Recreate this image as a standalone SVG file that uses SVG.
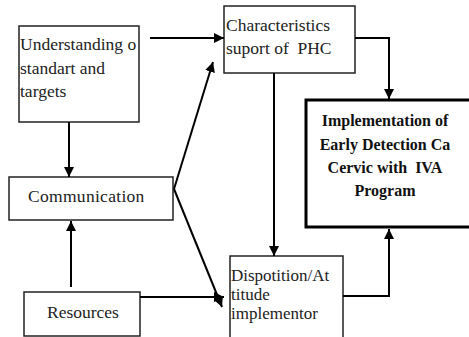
<svg xmlns="http://www.w3.org/2000/svg" width="469" height="337" viewBox="0 0 469 337">
<defs>
<marker id="ah" viewBox="0 0 10 10" refX="10" refY="5" markerWidth="10" markerHeight="10" markerUnits="userSpaceOnUse" orient="auto">
<path d="M0,0 L10,5 L0,10 Z" fill="#000"/>
</marker>
</defs>
<rect width="469" height="337" fill="#fff"/>
<g id="understanding">
<rect x="19" y="26" width="120" height="96" fill="#fff" stroke="#222" stroke-width="1.5"/>
<text x="20" y="50" font-family="Liberation Serif" font-size="17.5" fill="#222">Understanding o</text>
<text x="20" y="74" font-family="Liberation Serif" font-size="17.5" fill="#222">standart and</text>
<text x="20" y="97" font-family="Liberation Serif" font-size="17.5" fill="#222">targets</text>
</g>
<g id="characteristics">
<rect x="224" y="6" width="131" height="67" fill="#fff" stroke="#222" stroke-width="1.5"/>
<text x="226" y="31" font-family="Liberation Serif" font-size="17.5" fill="#222">Characteristics</text>
<text x="226" y="54" font-family="Liberation Serif" font-size="17.5" fill="#222" xml:space="preserve">suport of  PHC</text>
</g>
<g id="implementation">
<rect x="306" y="100" width="170" height="127" fill="#fff" stroke="#000" stroke-width="3"/>
<text x="385" y="126" font-family="Liberation Serif" font-size="16" font-weight="bold" text-anchor="middle" fill="#111">Implementation of</text>
<text x="385" y="150" font-family="Liberation Serif" font-size="16" font-weight="bold" text-anchor="middle" fill="#111">Early Detection Ca</text>
<text x="385" y="173" font-family="Liberation Serif" font-size="16" font-weight="bold" text-anchor="middle" fill="#111" xml:space="preserve">Cervic with  IVA</text>
<text x="385" y="196" font-family="Liberation Serif" font-size="16" font-weight="bold" text-anchor="middle" fill="#111">Program</text>
</g>
<g id="communication">
<rect x="9" y="177" width="164" height="43" fill="#fff" stroke="#222" stroke-width="1.5"/>
<text x="28" y="202" font-family="Liberation Serif" font-size="17.5" fill="#222" letter-spacing="0.3">Communication</text>
</g>
<g id="resources">
<rect x="24" y="292" width="116" height="44" fill="#fff" stroke="#222" stroke-width="1.5"/>
<text x="47" y="318" font-family="Liberation Serif" font-size="17.5" fill="#222">Resources</text>
</g>
<g id="disposition">
<rect x="230" y="256" width="113" height="90" fill="#fff" stroke="#222" stroke-width="1.5"/>
<text x="231" y="281" font-family="Liberation Serif" font-size="17" fill="#222">Dispotition/At</text>
<text x="231" y="300" font-family="Liberation Serif" font-size="17" fill="#222">titude</text>
<text x="231" y="319" font-family="Liberation Serif" font-size="17" fill="#222">implementor</text>
</g>
<g id="connectors" fill="none" stroke="#000" stroke-width="2">
<path marker-end="url(#ah)" d="M150,38 L224,38"/>
<path marker-end="url(#ah)" d="M69,122 L69,177"/>
<path marker-end="url(#ah)" d="M71,287 L71,221"/>
<path marker-end="url(#ah)" d="M174,189 L213,62"/>
<path marker-end="url(#ah)" d="M174,189 L222,307"/>
<path marker-end="url(#ah)" d="M140,297 L224,297"/>
<path marker-end="url(#ah)" d="M274,73 L274,256"/>
<path marker-end="url(#ah)" d="M355,38 L389,38 L389,99"/>
<path marker-end="url(#ah)" d="M343,296 L389,296 L389,229"/>
</g>
</svg>
